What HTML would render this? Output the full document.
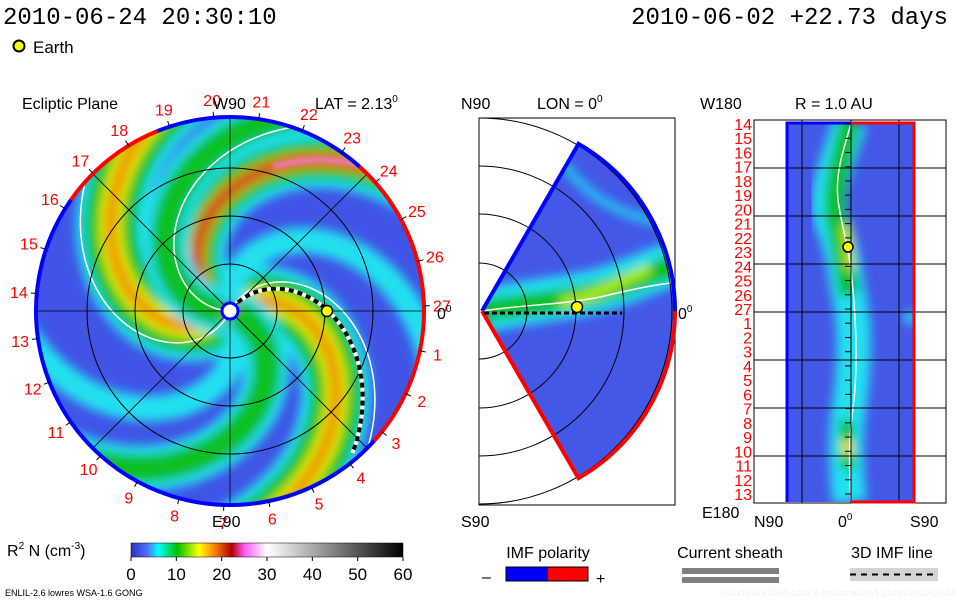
<!DOCTYPE html>
<html><head><meta charset="utf-8">
<style>
html,body{margin:0;padding:0;background:#fff;}
svg{display:block;}
text{font-family:"Liberation Sans",sans-serif;}
.mono{font-family:"Liberation Mono",monospace;}
</style></head>
<body>
<svg id="s" width="960" height="600" viewBox="0 0 960 600" xmlns="http://www.w3.org/2000/svg">
<defs>
  <filter id="bl" x="-20%" y="-20%" width="140%" height="140%"><feGaussianBlur stdDeviation="5"/></filter>
  <filter id="bl2" x="-20%" y="-20%" width="140%" height="140%"><feGaussianBlur stdDeviation="3"/></filter>
  <clipPath id="diskClip"><circle cx="230" cy="311" r="194"/></clipPath>
  <clipPath id="wedgeClip"><path d="M482,311 L578.5,143.9 A193,193 0 0 1 578.5,478.1 Z"/></clipPath>
  <clipPath id="rectClip"><rect x="786" y="122" width="129" height="380"/></clipPath>
  <linearGradient id="cbar" x1="0" x2="1" y1="0" y2="0">
    <stop offset="0" stop-color="#3030c0"/>
    <stop offset="0.06" stop-color="#5070ff"/>
    <stop offset="0.1" stop-color="#00ffff"/>
    <stop offset="0.17" stop-color="#00c000"/>
    <stop offset="0.25" stop-color="#ffff00"/>
    <stop offset="0.3" stop-color="#ff9000"/>
    <stop offset="0.37" stop-color="#b00000"/>
    <stop offset="0.42" stop-color="#ff60ff"/>
    <stop offset="0.5" stop-color="#ffffff"/>
    <stop offset="1" stop-color="#000000"/>
  </linearGradient>
</defs>

<text class="mono" x="3" y="24" font-size="24">2010-06-24 20:30:10</text>
<text class="mono" x="948" y="24" font-size="24" text-anchor="end">2010-06-02 +22.73 days</text>
<circle cx="19" cy="46" r="5.5" fill="#ffff00" stroke="#000" stroke-width="2"/>
<text x="33" y="53" font-size="17">Earth</text>

<text x="22" y="109" font-size="16">Ecliptic Plane</text>
<text x="315" y="109" font-size="16">LAT = 2.13<tspan font-size="10" dy="-7">0</tspan></text>
<text x="461" y="109" font-size="16">N90</text>
<text x="537" y="109" font-size="16">LON = 0<tspan font-size="10" dy="-7">0</tspan></text>
<text x="700" y="109" font-size="16">W180</text>
<text x="795" y="109" font-size="16">R = 1.0 AU</text>

<g id="disk" clip-path="url(#diskClip)">
  <circle cx="230" cy="311" r="194" fill="#4055e6"/>
  <g id="arms" filter="url(#bl)"></g>
  <g id="armsSharp" filter="url(#bl2)"></g>
  <g id="sheath"></g>
</g>
<g id="diskGrid"></g>
<g id="diskRim"></g>
<g id="dayLabels"></g>
<text x="213" y="109" font-size="16">W90</text>
<text x="212" y="527" font-size="16">E90</text>
<text x="437" y="319" font-size="16">0<tspan font-size="10" dy="-7">0</tspan></text>

<rect x="479" y="118" width="196" height="387" fill="none" stroke="#000" stroke-width="1"/>
<g id="wedge" clip-path="url(#wedgeClip)">
  <rect x="470" y="130" width="220" height="360" fill="#4458e8"/>
  <g filter="url(#bl)">
    <path d="M482,311 C530,300 560,300 600,290 C630,282 650,270 690,258" stroke="#20e0f0" stroke-width="44" fill="none"/>
    <path d="M482,311 C530,303 560,302 600,292 C630,284 650,272 690,262" stroke="#10c020" stroke-width="22" fill="none"/>
    <path d="M560,303 C590,298 615,285 650,268" stroke="#b0f000" stroke-width="10" fill="none"/>
    <path d="M560,160 C590,200 620,215 670,225" stroke="#20d0f0" stroke-width="8" fill="none"/>
  </g>
  <path d="M482,311 C530,304 560,305 600,297 C630,290 650,285 680,282" stroke="#fff" stroke-width="1.5" fill="none"/>
</g>
<g id="wedgeGrid"></g>
<text x="678" y="319" font-size="16">0<tspan font-size="10" dy="-7">0</tspan></text>
<text x="461" y="527" font-size="16">S90</text>

<rect x="754" y="120" width="192" height="383" fill="none" stroke="#000"/>
<g clip-path="url(#rectClip)">
  <rect x="786" y="122" width="129" height="380" fill="#4458e8"/>
  <g filter="url(#bl)">
    <path d="M850,122 C835,170 820,200 835,230 C845,260 845,280 850,300 C855,330 855,360 850,400 C845,430 845,470 850,502" stroke="#20e0f0" stroke-width="34" fill="none"/>
    <path d="M850,122 C838,170 830,200 838,230 C845,260 845,280 850,295" stroke="#10c020" stroke-width="20" fill="none"/>
    <path d="M846,420 L848,470" stroke="#10c020" stroke-width="14" fill="none"/>
    <path d="M846,225 L850,270" stroke="#c0e000" stroke-width="10" fill="none"/>
    <path d="M846,440 L848,455" stroke="#f0e000" stroke-width="10" fill="none"/>
    <path d="M905,315 L915,320" stroke="#20e0f0" stroke-width="12" fill="none"/>
  </g>
  <path d="M851,124 C843,150 835,175 838,200 C842,230 850,250 852,280 C856,320 858,360 854,400 C850,430 848,450 851,502" stroke="#fff" stroke-width="1.5" fill="none"/>
</g>
<g id="rectGrid"></g>
<g id="rectDays"></g>
<text x="702" y="518" font-size="16">E180</text>
<text x="754" y="527" font-size="16">N90</text>
<text x="838" y="527" font-size="16">0<tspan font-size="10" dy="-7">0</tspan></text>
<text x="910" y="527" font-size="16">S90</text>

<text x="7" y="556" font-size="16">R<tspan font-size="10" dy="-7">2</tspan><tspan dy="7"> N (cm</tspan><tspan font-size="10" dy="-7">-3</tspan><tspan dy="7">)</tspan></text>
<rect x="131" y="543" width="272" height="14" fill="url(#cbar)" stroke="#000" stroke-width="0.5"/>
<g id="cbarTicks"></g>

<text x="548" y="558" font-size="16" text-anchor="middle">IMF polarity</text>
<text x="482" y="582" font-size="16">–</text>
<rect x="506" y="567" width="42" height="14" fill="#0000ff"/>
<rect x="548" y="567" width="40" height="14" fill="#ff0000"/>
<rect x="506" y="567" width="82" height="14" fill="none" stroke="#000"/>
<text x="596" y="584" font-size="16">+</text>

<text x="730" y="558" font-size="16" text-anchor="middle">Current sheath</text>
<rect x="682" y="568" width="97" height="6" fill="#808080"/>
<rect x="682" y="577" width="97" height="6" fill="#808080"/>

<text x="892" y="558" font-size="16" text-anchor="middle">3D IMF line</text>
<rect x="850" y="568" width="88" height="13" fill="#d3d3d3"/>
<line x1="850" y1="574.5" x2="938" y2="574.5" stroke="#000" stroke-width="2" stroke-dasharray="6,5"/>

<text x="5" y="596" font-size="9">ENLIL-2.6 lowres WSA-1.6 GONG</text>
<text x="955" y="596" font-size="9" fill="#f0f0f0" text-anchor="end">.//64x15x45.2068-a2b2.4-mp1umn1de-1.g1sq0   2010-06-24</text>
</svg>
<script>
const NS='http://www.w3.org/2000/svg';
function mk(tag,attrs,parent){const e=document.createElementNS(NS,tag);for(const k in attrs)e.setAttribute(k,attrs[k]);(parent||document.getElementById('s')).appendChild(e);return e;}

// ---- data ----
const colorbarTicks=[0,10,20,30,40,50,60];
const dayLabels=[27,1,2,3,4,5,6,7,8,9,10,11,12,13,14,15,16,17,18,19,20,21,22,23,24,25,26];
const rectDayLabels=[14,15,16,17,18,19,20,21,22,23,24,25,26,27,1,2,3,4,5,6,7,8,9,10,11,12,13];
// spiral arms: start angle (deg), peak class
const armStarts=[-36,135,-156,60,-100,20,175];
const armPeaks=['orange','orange','red','cyan','cyan','green','green'];
const earthLon=0, earthR=0.99;
// ---- geometry ----
const CX=230,CY=311,R=194,K=0.55;
function spiral(t0,r0,r1){let d='';for(let r=r0;r<=r1;r+=4){const a=(t0+K*r)*Math.PI/180;d+=(r===r0?'M':'L')+(CX+r*Math.cos(a)).toFixed(1)+','+(CY+r*Math.sin(a)).toFixed(1);}return d;}
const layers={cyan:[['#20e0f0',26]],green:[['#20e0f0',46],['#10c020',28]],orange:[['#20e0f0',70],['#10c020',52],['#e0f000',24],['#f08000',10]],red:[['#20e0f0',56],['#10c020',38],['#f0a000',16],['#c00020',8]]};
const arms=document.getElementById('arms');
armStarts.forEach((t0,i)=>{layers[armPeaks[i]].forEach(([c,w])=>{
  const p=mk('path',{d:spiral(t0,6,260),stroke:c,'stroke-width':w,fill:'none'},arms);
  
  
});});
const sharp=document.getElementById('armsSharp');
const pk=mk('path',{d:spiral(-156,150,230),stroke:'#ff80e0','stroke-width':5,fill:'none'},sharp);


const sh=document.getElementById('sheath');
[-62,115,-178].forEach(t0=>{
  const p=mk('path',{d:spiral(t0,8,260),stroke:'#fff','stroke-width':1.5,fill:'none'},sh);
  
  
});
const g=document.getElementById('diskGrid');
[47,95,143].forEach(r=>{const c=mk('circle',{cx:CX,cy:CY,r:r,fill:'none',stroke:'#000','stroke-width':1},g);
  
  });
for(let a=0;a<180;a+=45){const t=a*Math.PI/180;const l=mk('line',{x1:CX-R*Math.cos(t),y1:CY-R*Math.sin(t),x2:CX+R*Math.cos(t),y2:CY+R*Math.sin(t),stroke:'#000','stroke-width':0.8},g);
  
  }
const imfD=spiral(-54,12,190);
const im1=mk('path',{d:imfD,stroke:'#fff','stroke-width':4,fill:'none'},g);


const im2=mk('path',{d:imfD,stroke:'#000','stroke-width':4,fill:'none','stroke-dasharray':'5,4'},g);


const sun=mk('circle',{cx:CX,cy:CY,r:8,fill:'#fff',stroke:'#0000ff','stroke-width':3},g);


const ea=(earthLon)*Math.PI/180;
const earth=mk('circle',{cx:CX+98*earthR*Math.cos(ea),cy:CY+98*earthR*Math.sin(ea),r:5.5,fill:'#ffff00',stroke:'#000','stroke-width':1.5},g);


const rim=document.getElementById('diskRim');
function arc(a0,a1,col){const p0=[CX+R*Math.cos(a0*Math.PI/180),CY+R*Math.sin(a0*Math.PI/180)],p1=[CX+R*Math.cos(a1*Math.PI/180),CY+R*Math.sin(a1*Math.PI/180)];
  const large=(a1-a0)>180?1:0;
  const p=mk('path',{d:`M${p0[0]},${p0[1]} A${R},${R} 0 ${large} 1 ${p1[0]},${p1[1]}`,stroke:col,'stroke-width':4,fill:'none'},rim);
  
  }
arc(-48,42,'#ff0000');arc(42,215,'#0000ff');arc(215,248,'#ff0000');arc(248,312,'#0000ff');
const dl=document.getElementById('dayLabels');
dayLabels.forEach((d,i)=>{const a=(i*360/27-1.5)*Math.PI/180;
  const t=mk('text',{x:CX+212*Math.cos(a),y:CY+212*Math.sin(a)+6,'font-size':16,fill:'#ff0000','text-anchor':'middle'},dl);
  t.textContent=d;
  
  
  const tk=mk('line',{x1:CX+R*Math.cos(a),y1:CY+R*Math.sin(a),x2:CX+(R+6)*Math.cos(a),y2:CY+(R+6)*Math.sin(a),stroke:'#000'},dl);
  
  });
const wg=document.getElementById('wedgeGrid');
[48,97,145,193].forEach(r=>{const p=mk('path',{d:`M479,${311-r} A${r},${r} 0 0 1 479,${311+r}`,stroke:'#000',fill:'none','stroke-width':1},wg);
  
  });
const wr1=mk('path',{d:'M482,311 L578.5,143.9 A193,193 0 0 1 675,311',stroke:'#0000ff','stroke-width':4,fill:'none'},wg);


const wr2=mk('path',{d:'M482,311 L578.5,478.1 A193,193 0 0 0 675,311',stroke:'#ff0000','stroke-width':4,fill:'none'},wg);


const wl=mk('line',{x1:484,y1:313,x2:622,y2:313,stroke:'#000','stroke-width':3,'stroke-dasharray':'5,3'},wg);


const we=mk('circle',{cx:577,cy:307,r:5.5,fill:'#ffff00',stroke:'#000','stroke-width':1.5},wg);


const rg=document.getElementById('rectGrid');
for(let i=1;i<8;i++){const y=120+i*48;const l=mk('line',{x1:754,y1:y,x2:946,y2:y,stroke:'#000'},rg);
  
  }
[802,851,899].forEach(x=>{const l=mk('line',{x1:x,y1:120,x2:x,y2:503,stroke:'#000'},rg);
  
  });
const rb=mk('path',{d:'M787,502 L787,123 L851,123',stroke:'#0000ff','stroke-width':3,fill:'none'},rg);


const rr=mk('path',{d:'M851,123 L914,123 L914,502 L851,502',stroke:'#ff0000','stroke-width':3,fill:'none'},rg);


const re=mk('circle',{cx:848,cy:247,r:5,fill:'#ffff00',stroke:'#000','stroke-width':1.5},rg);


const rd=document.getElementById('rectDays');
rectDayLabels.forEach((d,i)=>{const y=124+i*(370/26);
  const t=mk('text',{x:752,y:y+6,'font-size':16,fill:'#ff0000','text-anchor':'end'},rd);
  t.textContent=d;
  
  
  const tk=mk('line',{x1:845,y1:y,x2:851,y2:y,stroke:'#000'},rd);
  
  });
const cb=document.getElementById('cbarTicks');
colorbarTicks.forEach(v=>{const x=131+272*v/60;
  const l=mk('line',{x1:x,y1:557,x2:x,y2:561,stroke:'#000'},cb);
  
  
  const t=mk('text',{x:x,y:580,'font-size':17,'text-anchor':'middle'},cb);
  t.textContent=v;
  
  });
</script>
</body></html>
